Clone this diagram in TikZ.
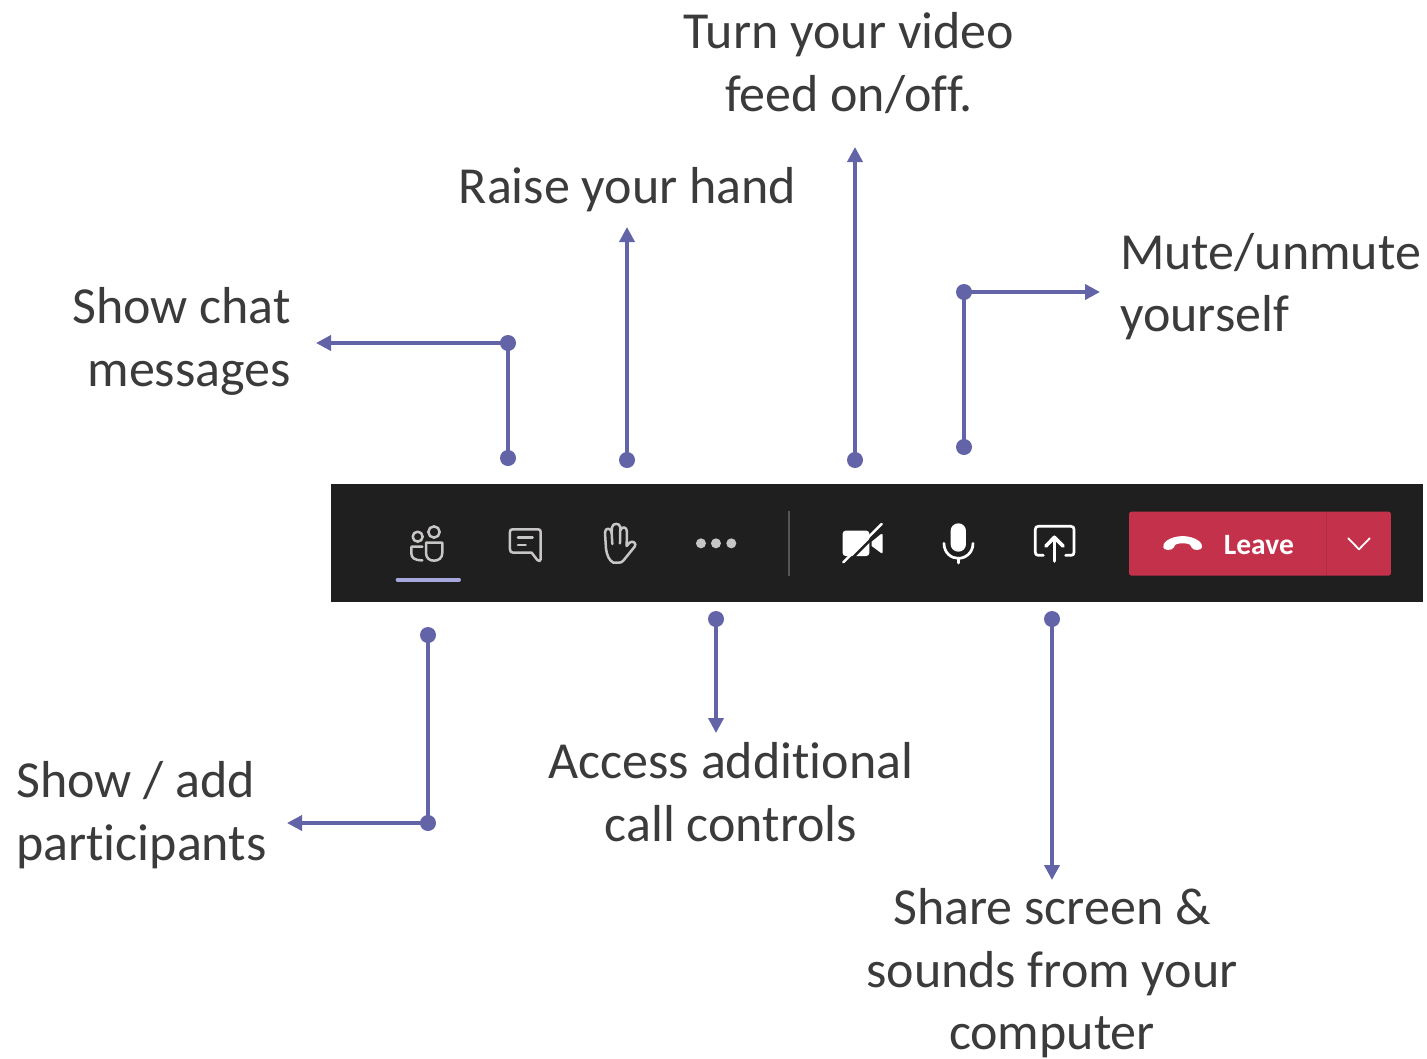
\documentclass[tikz,border=0pt]{standalone}
\usepackage{fontspec}
\setmainfont[Ligatures=NoCommon]{Carlito}
\usetikzlibrary{arrows.meta}
\definecolor{teamsblue}{HTML}{6264A7}
\definecolor{labelgrey}{HTML}{3B3B3B}
\definecolor{barblack}{HTML}{1F1F1F}
\definecolor{iconlight}{HTML}{C8C6C4}
\definecolor{leavered}{HTML}{C4314B}
\definecolor{leavedark}{HTML}{B02B44}
\definecolor{tabline}{HTML}{A6A7DC}
\definecolor{sepgrey}{HTML}{555555}
\tikzset{
  dotmark/.style={circle,fill=teamsblue,inner sep=0pt,minimum size=16pt},
  conn/.style={draw=teamsblue,line width=3.6pt},
  connarrow/.style={conn,-{Triangle[length=15pt,width=15pt]}},
  lab/.style={text=labelgrey,font=\fontsize{52}{62.4}\selectfont,inner sep=0pt,align=#1},
  lab/.default=center,
  iconline/.style={draw=iconlight,line width=2.5pt,line cap=round,line join=round},
  iconwhite/.style={draw=white,line width=2.7pt,line cap=round,line join=round},
}
\begin{document}
\begin{tikzpicture}[x=1pt,y=-1pt]
\useasboundingbox (0,0) rectangle (1427,1058);
\fill[white] (0,0) rectangle (1427,1058);
\fill[barblack] (331,484) rectangle (1423,602);

% labels
\node[lab=center] (video) at (849,63) {Turn your video\\feed on/off.};
\node[lab=center] (hand) at (627.5,190) {Raise your hand};
\node[lab=right,anchor=east] (chat) at (291,341.5) {Show chat\\[1pt]messages};
\node[lab=left,anchor=west] (mute) at (1120,286.5) {Mute/unmute\\yourself};
\node[lab=left,anchor=west] (part) at (16,815) {Show / add\\participants};
\node[lab=center] (more) at (731,792) {Access additional\\call controls};
\node[lab=center] (share) at (1052,973.5) {Share screen \&\\sounds from your\\computer};

% connector points
\node[dotmark] (c1) at (508,458) {};
\node[dotmark] (c2) at (508,343) {};
\coordinate (c3) at (316,343);
\node[dotmark] (h1) at (627,460) {};
\coordinate (h2) at (627,227);
\node[dotmark] (v1) at (855,460) {};
\coordinate (v2) at (855,147);
\node[dotmark] (m1) at (964,447) {};
\node[dotmark] (m2) at (964,292) {};
\coordinate (m3) at (1100,292);
\node[dotmark] (p1) at (428,635) {};
\node[dotmark] (p2) at (428,823) {};
\coordinate (p3) at (287,823);
\node[dotmark] (a1) at (716,619) {};
\coordinate (a2) at (716,733);
\node[dotmark] (s1) at (1052,619) {};
\coordinate (s2) at (1052,880);

\draw[conn] (c1.center) -- (c2.center);
\draw[connarrow] (c2.center) -- (c3);
\draw[connarrow] (h1.center) -- (h2);
\draw[connarrow] (v1.center) -- (v2);
\draw[conn] (m1.center) -- (m2.center);
\draw[connarrow] (m2.center) -- (m3);
\draw[conn] (p1.center) -- (p2.center);
\draw[connarrow] (p2.center) -- (p3);
\draw[connarrow] (a1.center) -- (a2);
\draw[connarrow] (s1.center) -- (s2);

% left icons (coordinates are 3x crop units)
\begin{scope}[shift={(380,490)},x=0.3333pt,y=-0.3333pt]
  % people
  \draw[iconline] (113,140) circle[radius=15];
  \draw[iconline] (162,126) circle[radius=17];
  \draw[iconline] (127,170) -- (94,170) -- (94,190) .. controls (94,204) and (104,211) .. (127,211);
  \draw[iconline] (138,158) -- (187,158) -- (187,188) .. controls (187,204) and (176,212) .. (162,212) .. controls (148,212) and (138,204) .. (138,188) -- cycle;
  % underline
  \draw[line width=4pt,line cap=round,draw=tabline] (53,269) -- (237,269);
  % chat
  \draw[iconline] (398,118) -- (474,118) .. controls (480,118) and (482,120) .. (482,126) -- (482,208) .. controls (482,214) and (476,215) .. (472,210) -- (455,188) -- (400,188) .. controls (393,188) and (390,185) .. (390,178) -- (390,126) .. controls (390,120) and (392,118) .. (398,118) -- cycle;
  \draw[iconline] (414,143) -- (458,143);
  \draw[iconline] (414,165) -- (437,165);
  % hand
  \draw[iconline] (700,218) .. controls (688,212) and (680,195) .. (678,175) -- (675,128) .. controls (675,112) and (693,112) .. (695,128) -- (696,112) .. controls (698,98) and (720,98) .. (721,112) -- (722,120) .. controls (725,108) and (741,110) .. (741,125) -- (740,168) -- (749,158) .. controls (757,150) and (772,160) .. (764,170) -- (730,212) .. controls (726,217) and (722,218) .. (716,218) -- cycle;
  \draw[iconline] (695,128) -- (697,162);
  \draw[iconline] (721,112) -- (720,160);
  % dots
  \fill[iconlight] (963,160) circle[radius=15];
  \fill[iconlight] (1008,160) circle[radius=15];
  \fill[iconlight] (1054,160) circle[radius=15];
\end{scope}

% middle icons
\begin{scope}[shift={(780,490)},x=0.3333pt,y=-0.3333pt]
  \draw[draw=sepgrey,line width=2pt] (28,64) -- (28,257);
  % camera
  \fill[white,rounded corners=3pt] (188,122) rectangle (268,198);
  \fill[white] (275,155) -- (302,133) .. controls (306,130) and (308,132) .. (308,136) -- (308,186) .. controls (308,190) and (306,191) .. (302,188) -- (275,168) -- cycle;
  \draw[barblack,line width=2.5pt] (198,223) -- (313,108);
  \draw[white,line width=2.4pt,line cap=round] (190,217) -- (305,102);
  % mic
  \fill[white,rounded corners=7.5pt] (512,100) rectangle (558,185);
  \draw[iconwhite] (492,160) .. controls (492,190) and (515,205) .. (535,205) .. controls (555,205) and (579,190) .. (579,160);
  \draw[iconwhite] (535,205) -- (535,219);
  % share
  \draw[iconwhite] (790,196) -- (775,196) .. controls (769,196) and (766,193) .. (766,187) -- (766,118) .. controls (766,112) and (769,109) .. (775,109) -- (873,109) .. controls (879,109) and (882,112) .. (882,118) -- (882,187) .. controls (882,193) and (879,196) .. (873,196) -- (857,196);
  \draw[white,line width=3.6pt,line cap=round,line join=round] (823,213) -- (823,142);
  \draw[white,line width=3.6pt,line cap=round,line join=round] (798,168) -- (823,142) -- (849,168);
\end{scope}

% leave button
\begin{scope}[shift={(1100,490)},x=0.3333pt,y=-0.3333pt]
  \fill[leavered,rounded corners=2.5pt] (87,65) rectangle (873,257);
  \draw[leavedark,line width=1.2pt] (680,68) -- (680,254);
  \fill[white] (190,172) .. controls (186,160) and (205,140) .. (248,138) .. controls (290,140) and (310,160) .. (306,172) .. controls (305,182) and (280,182) .. (276,174) .. controls (275,166) and (270,160) .. (248,160) .. controls (226,160) and (221,166) .. (220,174) .. controls (215,182) and (191,182) .. (190,172) -- cycle;
  \draw[white,line width=1.8pt,line cap=round,line join=round] (745,145) -- (777,178) -- (809,145);
  \node[text=white,inner sep=0pt,anchor=base west,font=\fontsize{29.5}{29.5}\selectfont\bfseries] (leave) at (371,192) {Leave};
\end{scope}
\end{tikzpicture}
\end{document}
